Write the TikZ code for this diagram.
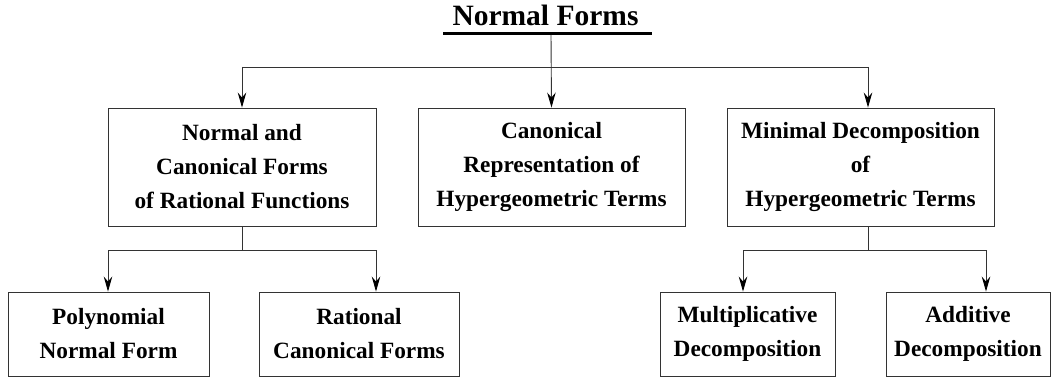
\documentclass[tikz,border=0pt]{standalone}
\usepackage{fontspec}
\setmainfont{Liberation Serif}
\usetikzlibrary{arrows.meta}
\begin{document}
\begin{tikzpicture}[x=1pt,y=-1pt,
  box/.style={draw=black!80,line width=0.9pt,inner sep=0pt,align=center,
    font=\bfseries\fontsize{23.3}{34}\selectfont},
  line/.style={draw=black!80,line width=0.9pt},
  arr/.style={line,-{Stealth[length=15pt,width=8.5pt,inset=5pt,black]}}]
\useasboundingbox (0,0) rectangle (1052,377);
% title
\node[anchor=base,inner sep=0pt,font=\bfseries\fontsize{29.5}{35}\selectfont] (title) at (545.5,26) {Normal Forms};
\draw[line width=3pt] (443,33.5) -- (652,33.5);
\coordinate (tu) at (551,35);
% middle row
\node[box,minimum width=268pt,minimum height=118pt] (b1) at (242,167) {Normal and\\Canonical Forms\\of Rational Functions};
\node[box,minimum width=267pt,minimum height=118pt] (b2) at (551.5,167) {Canonical\\Representation of\\Hypergeometric Terms};
\node[box,minimum width=267pt,minimum height=118pt] (b3) at (860.5,167) {Minimal Decomposition\\of\\Hypergeometric Terms};
% bottom row
\node[box,minimum width=201pt,minimum height=84pt] (b4) at (108.5,334) {Polynomial\\Normal Form};
\node[box,minimum width=200pt,minimum height=84pt] (b5) at (359,334) {Rational\\Canonical Forms};
\node[box,minimum width=175pt,minimum height=84pt] (b6) at (747.5,334) {Multiplicative\\Decomposition};
\node[box,minimum width=164pt,minimum height=84pt] (b7) at (968,334) {Additive\\Decomposition};
% junctions
\coordinate (jl) at (242,67);
\coordinate (jr) at (868,67);
\coordinate (k1) at (242,250);
\coordinate (k1l) at (108,250);
\coordinate (k1r) at (376,250);
\coordinate (k3) at (868,250);
\coordinate (k3l) at (743,250);
\coordinate (k3r) at (986,250);
% connectors top
\draw[arr] (tu) -- (b2.north);
\draw[line] (jl) -- (jr);
\draw[arr] (jl) -- (b1.north);
\draw[arr] (jr) -- (jr |- b3.north);
% connectors left
\draw[line] (b1.south) -- (k1);
\draw[line] (k1l) -- (k1r);
\draw[arr] (k1l) -- (k1l |- b4.north);
\draw[arr] (k1r) -- (k1r |- b5.north);
% connectors right
\draw[line] (k3 |- b3.south) -- (k3);
\draw[line] (k3l) -- (k3r);
\draw[arr] (k3l) -- (k3l |- b6.north);
\draw[arr] (k3r) -- (k3r |- b7.north);
\end{tikzpicture}
\end{document}
